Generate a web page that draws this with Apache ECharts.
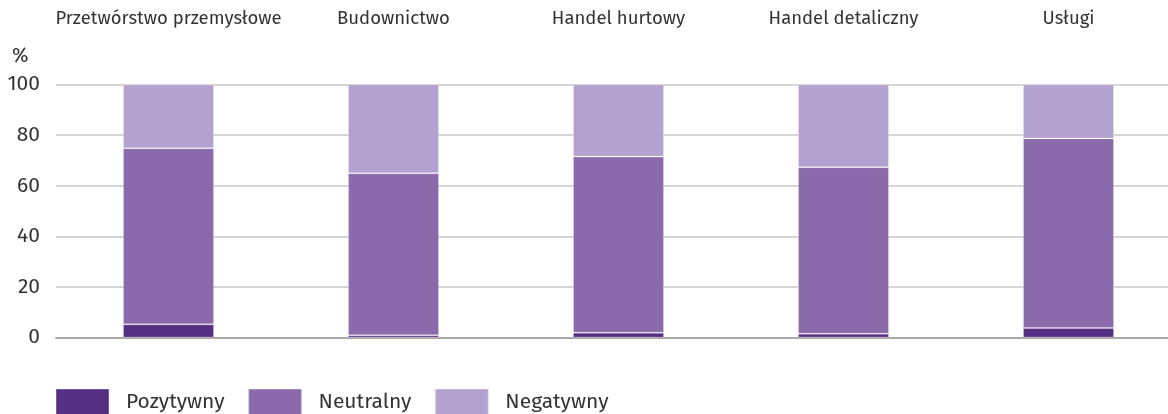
<!DOCTYPE html>
<html><head><meta charset="utf-8">
<script src="https://cdn.jsdelivr.net/npm/echarts@6/dist/echarts.min.js"></script>
<style>html,body{margin:0;padding:0;background:#fff}#c{width:1168px;height:414px}</style>
</head><body><div id="c"></div>
<script>
const categories = ['Przetwórstwo przemysłowe','Budownictwo','Handel hurtowy','Handel detaliczny','Usługi'];
const pozytywny = [5.2, 0.9, 1.9, 1.5, 3.8];
const neutralny = [69.6, 64.0, 69.6, 65.8, 74.9];
const negatywny = [25.2, 35.1, 28.5, 32.7, 21.3];
const yTicks = [0, 20, 40, 60, 80, 100];

const font = 'Fira Sans, "Open Sans", "Noto Sans", sans-serif';
const chart = echarts.init(document.getElementById('c'), null, {renderer:'canvas'});
const mk = (name, data, color) => ({
  name, type:'bar', stack:'s', data, barWidth:91,
  itemStyle:{color, borderColor:'rgba(255,255,255,0.2)', borderWidth:1},
  emphasis:{disabled:true}
});
chart.setOption({
  animation:false,
  textStyle:{fontFamily:font, color:'#333'},
  grid:{left:56, width:1125, top:84.5, bottom:76.5, containLabel:false, outerBoundsMode:'none'},
  legend:{
    left:50, top:383, itemWidth:53, itemHeight:26, itemGap:23, icon:'rect',
    textStyle:{fontSize:21, color:'#333', fontFamily:font, padding:[0,0,0,12]},
    data:['Pozytywny','Neutralny','Negatywny']
  },
  xAxis:[{
    type:'category', data:categories, position:'top',
    axisLine:{show:false}, axisTick:{show:false},
    axisLabel:{fontSize:18.5, color:'#333', margin:56, interval:0, fontFamily:font}
  },{
    type:'category', data:categories, position:'bottom',
    axisLine:{show:true, lineStyle:{color:'#aaa', width:2}}, axisTick:{show:false},
    axisLabel:{show:false}
  }],
  yAxis:{
    type:'value', min:0, max:100, interval:20,
    name:'%', nameLocation:'end', nameGap:18,
    nameTextStyle:{fontSize:20, color:'#333', align:'left', padding:[0,0,0,-44], fontFamily:font},
    axisLine:{show:false}, axisTick:{show:false},
    axisLabel:{fontSize:21, color:'#333', margin:16, fontFamily:font,
      formatter:v => yTicks.includes(v) ? String(v) : ''},
    splitLine:{lineStyle:{color:'#c8c8c8', width:1.5}}
  },
  series:[
    mk('Pozytywny', pozytywny, '#552f84'),
    mk('Neutralny', neutralny, '#8a6aaa'),
    mk('Negatywny', negatywny, '#b3a2cf')
  ]
});
</script></body></html>
